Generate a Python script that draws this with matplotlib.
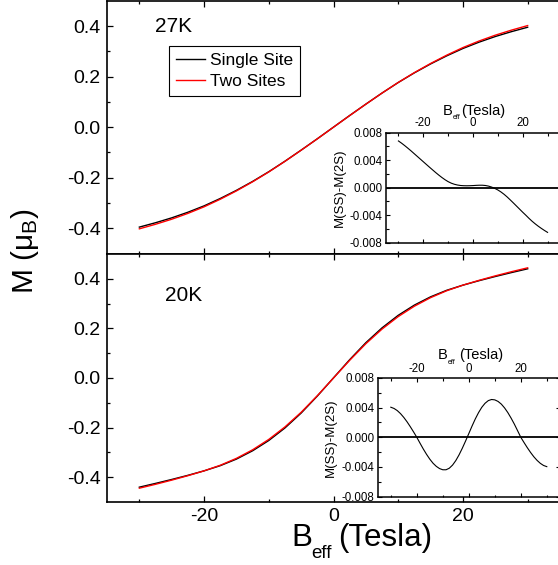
import matplotlib
matplotlib.use("Agg")
import matplotlib.pyplot as plt

plt.rcParams['font.family'] = ['Liberation Sans', 'DejaVu Sans']
plt.rcParams['mathtext.fontset'] = 'custom'
plt.rcParams['mathtext.rm'] = 'Liberation Sans'
plt.rcParams['mathtext.it'] = 'Liberation Sans:italic'
plt.rcParams['mathtext.bf'] = 'Liberation Sans:bold'
plt.rcParams['axes.unicode_minus'] = False

# ---------------- data ----------------
b_field = [-30, -27.5, -25, -22.5, -20, -17.5, -15, -12.5, -10, -7.5, -5, -2.5, 0,
           2.5, 5, 7.5, 10, 12.5, 15, 17.5, 20, 22.5, 25, 27.5, 30]

# 27 K main panel
single_27k = [-0.3952, -0.3779, -0.3586, -0.3364, -0.3112, -0.2820, -0.2498, -0.2145,
              -0.1761, -0.1345, -0.0907, -0.0458, 0.0003, 0.0463, 0.0913, 0.1351,
              0.1767, 0.2150, 0.2502, 0.2823, 0.3114, 0.3365, 0.3587, 0.3780, 0.3954]
two_27k = [-0.402, -0.384, -0.364, -0.341, -0.315, -0.285, -0.252, -0.216, -0.177,
           -0.135, -0.091, -0.046, 0.000, 0.046, 0.091, 0.135, 0.177, 0.216, 0.252,
           0.285, 0.315, 0.341, 0.364, 0.384, 0.402]

# 20 K main panel
single_20k = [-0.4409, -0.4257, -0.4098, -0.3931, -0.3750, -0.3541, -0.3275, -0.2939,
              -0.2524, -0.2017, -0.1416, -0.0730, 0.0005, 0.0740, 0.1426, 0.2025,
              0.2531, 0.2945, 0.3278, 0.3543, 0.3750, 0.3931, 0.4099, 0.4258, 0.4410]
two_20k = [-0.445, -0.4293, -0.4125, -0.3945, -0.375, -0.3525, -0.3245, -0.290, -0.248,
           -0.1975, -0.1385, -0.0715, 0.000, 0.0715, 0.1385, 0.1975, 0.248, 0.290,
           0.3245, 0.3525, 0.375, 0.3945, 0.4125, 0.4293, 0.445]

# insets: M(SS) - M(2S)
b_field_inset = [-30, -28.75, -27.5, -26.25, -25, -23.75, -22.5, -21.25, -20, -18.75,
                 -17.5, -16.25, -15, -13.75, -12.5, -11.25, -10, -8.75, -7.5, -6.25,
                 -5, -3.75, -2.5, -1.25, 0, 1.25, 2.5, 3.75, 5, 6.25, 7.5, 8.75, 10,
                 11.25, 12.5, 13.75, 15, 16.25, 17.5, 18.75, 20, 21.25, 22.5, 23.75,
                 25, 26.25, 27.5, 28.75, 30]
diff_27k = [0.00680, 0.00648, 0.00613, 0.00576, 0.00538, 0.00498, 0.00458, 0.00418,
            0.00378, 0.00338, 0.00298, 0.00259, 0.00220, 0.00183, 0.00148, 0.00116,
            0.00088, 0.00066, 0.00050, 0.00039, 0.00032, 0.00029, 0.00028, 0.00029,
            0.00031, 0.00034, 0.00036, 0.00036, 0.00032, 0.00023, 0.00009, -0.00010,
            -0.00033, -0.00062, -0.00096, -0.00135, -0.00178, -0.00222, -0.00267,
            -0.00312, -0.00357, -0.00400, -0.00445, -0.00487, -0.00525, -0.00560,
            -0.00592, -0.00622, -0.00650]
diff_20k = [0.00406, 0.00389, 0.00360, 0.00319, 0.00268, 0.00209, 0.00143, 0.00073,
            0.00000, -0.00080, -0.00158, -0.00230, -0.00295, -0.00350, -0.00392,
            -0.00422, -0.00438, -0.00438, -0.00417, -0.00375, -0.00314, -0.00237,
            -0.00148, -0.00051, 0.00050, 0.00152, 0.00248, 0.00333, 0.00405, 0.00459,
            0.00495, 0.00510, 0.00505, 0.00484, 0.00448, 0.00397, 0.00334, 0.00260,
            0.00179, 0.00090, 0.00000, -0.00071, -0.00140, -0.00204, -0.00262,
            -0.00311, -0.00351, -0.00380, -0.00396]

main_xticks = [-20, 0, 20]
main_xticklabels = ['-20', '0', '20']
main_yticks = [-0.4, -0.2, 0.0, 0.2, 0.4]
main_yticklabels = ['-0.4', '-0.2', '0.0', '0.2', '0.4']
inset_yticks = [-0.008, -0.004, 0.0, 0.004, 0.008]
inset_yticklabels = ['-0.008', '-0.004', '0.000', '0.004', '0.008']
series_labels = ['Single Site', 'Two Sites']
temps = ['27K', '20K']

# ---------------- figure ----------------
W, H = 558, 565
fig = plt.figure(figsize=(W / 100, H / 100), dpi=100)


def fx(px):
    return px / W


def fy(py):
    return (H - py) / H


def style_main(ax, labelbottom):
    ax.set_xlim(-35, 35)
    ax.set_ylim(-0.5, 0.5)
    ax.set_xticks(main_xticks)
    ax.set_xticks([-30, -10, 10, 30], minor=True)
    ax.set_yticks(main_yticks)
    ax.set_yticks([-0.3, -0.1, 0.1, 0.3], minor=True)
    ax.set_yticklabels(main_yticklabels)
    if labelbottom:
        ax.set_xticklabels(main_xticklabels)
    ax.tick_params(which='both', direction='in', top=True, bottom=True,
                   left=True, right=False, labelbottom=labelbottom,
                   width=0.9, colors='black')
    ax.tick_params(which='major', length=4.2, labelsize=14, pad=4.5)
    ax.tick_params(which='minor', length=2.5)
    for s in ax.spines.values():
        s.set_linewidth(1.2)


ax_top = fig.add_axes([fx(107), fy(253.6), fx(453), 252.8 / H])
ax_bot = fig.add_axes([fx(107), fy(501.8), fx(453), 247.6 / H])

l1, = ax_top.plot(b_field, single_27k, color='black', lw=1.0)
l2, = ax_top.plot(b_field, two_27k, color='#ff0000', lw=1.0)
style_main(ax_top, False)
ax_bot.plot(b_field, single_20k, color='black', lw=1.0)
ax_bot.plot(b_field, two_20k, color='#ff0000', lw=1.0)
style_main(ax_bot, True)

leg = ax_top.legend([l1, l2], series_labels, loc='upper left',
                    bbox_to_anchor=(fx(168.7), fy(45.7)),
                    bbox_transform=fig.transFigure, fontsize=12.5,
                    frameon=True, fancybox=False, framealpha=1,
                    edgecolor='black', handlelength=1.65, handletextpad=0.3,
                    labelspacing=0.32, borderpad=0.42, borderaxespad=0)
leg.get_frame().set_linewidth(0.8)

fig.text(fx(155.3), fy(32.3), temps[0], fontsize=15, va='baseline', ha='left')
fig.text(fx(165.3), fy(300.7), temps[1], fontsize=15, va='baseline', ha='left')

fig.text(fx(25), fy(251), r'M ($\mathregular{μ_B}$)', fontsize=21.5,
         rotation=90, ha='center', va='center')


def beff_label(xb, yb, size, xsub, ysub, subsize, xt):
    fig.text(fx(xb), fy(yb), 'B', fontsize=size, ha='left', va='baseline')
    fig.text(fx(xsub), fy(ysub), 'eff', fontsize=subsize, ha='left', va='baseline')
    fig.text(fx(xt), fy(yb), '(Tesla)', fontsize=size, ha='left', va='baseline')


beff_label(291, 545.7, 22.5, 311, 558, 13.5, 338)


# ---------------- insets ----------------
def style_inset(ax, right_ticks):
    ax.set_xlim(-35, 35)
    ax.set_ylim(-0.008, 0.008)
    ax.set_xticks(main_xticks)
    ax.set_xticklabels(main_xticklabels)
    ax.set_xticks([-30, -10, 10, 30], minor=True)
    ax.set_yticks(inset_yticks)
    ax.set_yticklabels(inset_yticklabels)
    ax.set_yticks([-0.006, -0.002, 0.002, 0.006], minor=True)
    ax.tick_params(which='both', direction='in', top=True, bottom=True,
                   left=True, right=right_ticks, labeltop=True,
                   labelbottom=False, width=0.8)
    ax.tick_params(which='major', length=3.0, labelsize=8.3, pad=2.5)
    ax.tick_params(which='minor', length=1.8)
    for s in ax.spines.values():
        s.set_linewidth(1.1)
    ax.axhline(0, color='black', lw=1.3)


in_top = fig.add_axes([fx(386), fy(242.7), fx(174), 110 / H])
in_top.plot(b_field_inset, diff_27k, color='black', lw=0.8)
style_inset(in_top, False)
in_bot = fig.add_axes([fx(377.8), fy(496.6), fx(182), 118.6 / H])
in_bot.plot(b_field_inset, diff_20k, color='black', lw=0.8)
style_inset(in_bot, True)

beff_label(442.3, 115, 10.5, 452.3, 119, 5, 460.7)
beff_label(437.3, 359.3, 10.5, 447.3, 363.5, 5, 459.5)

fig.text(fx(340), fy(188), 'M(SS)-M(2S)', fontsize=9.5, rotation=90,
         ha='center', va='center')
fig.text(fx(331), fy(438), 'M(SS)-M(2S)', fontsize=9.5, rotation=90,
         ha='center', va='center')

fig.savefig('out.png', dpi=100)
